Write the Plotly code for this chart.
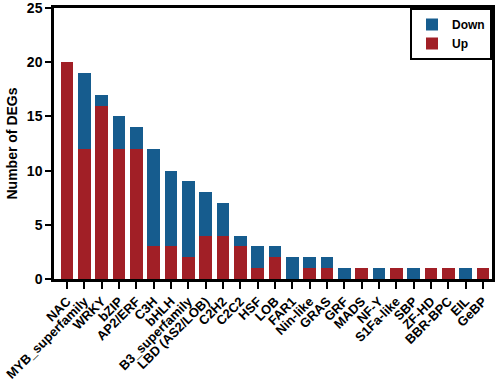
import plotly.graph_objects as go

categories = ["NAC", "MYB_superfamily", "WRKY", "bZIP", "AP2/ERF", "C3H", "bHLH",
              "B3_superfamily", "LBD (AS2/LOB)", "C2H2", "C2C2", "HSF", "LOB", "FAR1",
              "Nin-like", "GRAS", "GRF", "MADS", "NF-Y", "S1Fa-like", "SBP", "ZF-HD",
              "BBR-BPC", "EIL", "GeBP"]
up_values = [20, 12, 16, 12, 12, 3, 3, 2, 4, 4, 3, 1, 2, 0, 1, 1, 0, 1, 0, 1, 0, 1, 1, 0, 1]
down_values = [0, 7, 1, 3, 2, 9, 7, 7, 4, 3, 1, 2, 1, 2, 1, 1, 1, 0, 1, 0, 1, 0, 0, 1, 0]
y_ticks = [0, 5, 10, 15, 20, 25]

RED = "#A11F26"
BLUE = "#165C8E"
FONT = "Liberation Sans, Arial, sans-serif"

fig = go.Figure()
fig.add_trace(go.Bar(x=categories, y=up_values, name="Up",
                     marker=dict(color=RED, line=dict(width=0))))
fig.add_trace(go.Bar(x=categories, y=down_values, name="Down",
                     marker=dict(color=BLUE, line=dict(width=0))))

fig.update_layout(
    width=498, height=383,
    barmode="stack", bargap=0.27,
    plot_bgcolor="white", paper_bgcolor="white",
    margin=dict(l=54, r=6, t=8, b=104, autoexpand=False),
    font=dict(family=FONT, size=13, color="black", weight="bold"),
    showlegend=True,
    legend=dict(x=1, y=1, xanchor="right", yanchor="top",
                traceorder="reversed",
                bordercolor="black", borderwidth=2, bgcolor="white",
                font=dict(size=12, family=FONT, weight="bold"),
                tracegroupgap=0, itemwidth=30),
)
fig.update_xaxes(
    range=[-0.75, 24.52], automargin=False,
    tickangle=-45,
    showline=True, linecolor="black", linewidth=2.5, mirror=True,
    ticks="outside", ticklen=7, tickwidth=2, tickcolor="black",
    tickfont=dict(size=13, family=FONT, weight="bold"),
    showgrid=False,
)
fig.update_yaxes(
    range=[0, 25], tickvals=y_ticks, automargin=False,
    ticklabeloverflow="allow",
    showline=True, linecolor="black", linewidth=2.5, mirror=True,
    ticks="outside", ticklen=6, tickwidth=2, tickcolor="black",
    tickfont=dict(size=14, family=FONT, weight="bold"),
    title=dict(text="Number of DEGs", font=dict(size=14, family=FONT, weight="bold"), standoff=6),
    showgrid=False, zeroline=False,
)

fig.write_html("out.html", config={"displayModeBar": False},
               post_script="document.body.style.margin='0';document.body.style.overflow='hidden';")
